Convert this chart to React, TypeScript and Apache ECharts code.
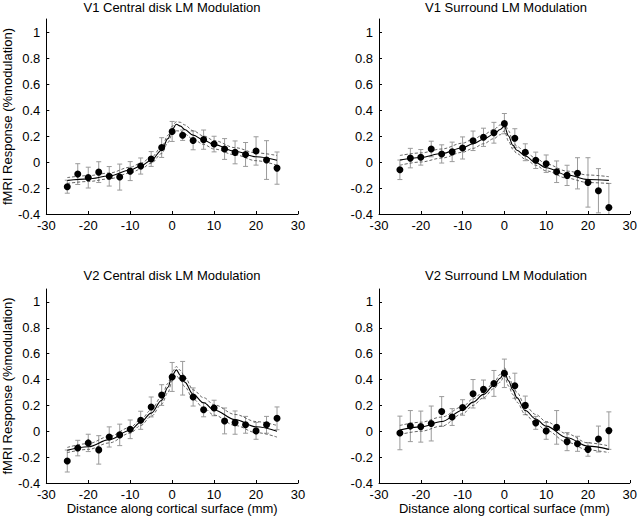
import React, { useEffect, useRef } from "react";
import * as echarts from "echarts";

// ---- data ----
const distances = [-25, -22.5, -20, -17.5, -15, -12.5, -10, -7.5, -5, -2.5, 0, 2.5, 5, 7.5, 10, 12.5, 15, 17.5, 20, 22.5, 25];
const fitX = [-25, -20, -15, -10, -7.5, -5, -2.5, -1, 0, 1, 2, 3, 5, 7.5, 10, 15, 20, 25];

const panelTitles = [
  "V1 Central disk LM Modulation",
  "V1 Surround LM Modulation",
  "V2 Central disk LM Modulation",
  "V2 Surround LM Modulation",
];

const xTickLabels = ["-30", "-20", "-10", "0", "10", "20", "30"];
const yTickValues = [-0.4, -0.2, 0, 0.2, 0.4, 0.6, 0.8, 1];

// V1 central
const v1CenMean = [-0.19, -0.093, -0.12, -0.078, -0.11, -0.116, -0.07, -0.031, 0.023, 0.111, 0.235, 0.206, 0.166, 0.172, 0.138, 0.1, 0.074, 0.058, 0.085, 0.015, -0.047];
const v1CenErr = [0.05, 0.08, 0.08, 0.08, 0.075, 0.1, 0.073, 0.062, 0.057, 0.076, 0.077, 0.04, 0.072, 0.074, 0.06, 0.08, 0.088, 0.092, 0.109, 0.149, 0.124];
const v1CenFit = [-0.142, -0.13, -0.108, -0.062, -0.031, 0.013, 0.09, 0.18, 0.25, 0.29, 0.276, 0.25, 0.207, 0.168, 0.134, 0.083, 0.04, 0.013];
const v1CenUp = [-0.12, -0.105, -0.085, -0.04, -0.01, 0.035, 0.115, 0.205, 0.275, 0.31, 0.305, 0.285, 0.24, 0.2, 0.165, 0.11, 0.07, 0.05];
const v1CenLo = [-0.165, -0.15, -0.13, -0.085, -0.055, -0.01, 0.065, 0.15, 0.215, 0.24, 0.238, 0.215, 0.175, 0.135, 0.1, 0.055, 0.01, -0.025];

// V1 surround
const v1SurMean = [-0.06, 0.03, 0.036, 0.1, 0.062, 0.078, 0.108, 0.163, 0.19, 0.225, 0.295, 0.183, 0.075, 0.013, -0.013, -0.075, -0.103, -0.087, -0.157, -0.221, -0.35];
const v1SurErr = [0.075, 0.075, 0.06, 0.06, 0.07, 0.075, 0.085, 0.075, 0.07, 0.08, 0.078, 0.073, 0.065, 0.063, 0.067, 0.083, 0.078, 0.12, 0.19, 0.17, 0.185];
const v1SurFit = [0.015, 0.035, 0.065, 0.11, 0.14, 0.175, 0.215, 0.25, 0.275, 0.2, 0.13, 0.09, 0.046, -0.005, -0.044, -0.1, -0.135, -0.141];
const v1SurUp = [0.05, 0.07, 0.1, 0.145, 0.175, 0.21, 0.25, 0.285, 0.3, 0.24, 0.165, 0.12, 0.075, 0.03, -0.015, -0.07, -0.1, -0.113];
const v1SurLo = [-0.025, 0.0, 0.03, 0.075, 0.105, 0.14, 0.18, 0.21, 0.24, 0.16, 0.1, 0.065, 0.022, -0.025, -0.068, -0.125, -0.158, -0.165];

// V2 central
const v2CenMean = [-0.23, -0.13, -0.09, -0.144, -0.044, -0.028, 0.015, 0.085, 0.188, 0.28, 0.42, 0.41, 0.265, 0.167, 0.18, 0.08, 0.067, 0.05, 0.003, 0.05, 0.1];
const v2CenErr = [0.085, 0.06, 0.067, 0.11, 0.078, 0.083, 0.072, 0.07, 0.077, 0.08, 0.112, 0.13, 0.07, 0.055, 0.06, 0.1, 0.09, 0.065, 0.065, 0.065, 0.088];
const v2CenFit = [-0.147, -0.12, -0.065, 0.008, 0.07, 0.14, 0.24, 0.34, 0.43, 0.475, 0.43, 0.38, 0.285, 0.22, 0.165, 0.09, 0.035, 0.0];
const v2CenUp = [-0.125, -0.095, -0.04, 0.03, 0.09, 0.165, 0.27, 0.37, 0.46, 0.5, 0.47, 0.42, 0.32, 0.26, 0.205, 0.13, 0.075, 0.045];
const v2CenLo = [-0.165, -0.14, -0.09, -0.015, 0.045, 0.115, 0.21, 0.3, 0.39, 0.43, 0.395, 0.345, 0.25, 0.18, 0.125, 0.045, -0.01, -0.045];

// V2 surround
const v2SurMean = [-0.013, 0.04, 0.036, 0.06, 0.153, 0.11, 0.184, 0.29, 0.324, 0.37, 0.448, 0.352, 0.2, 0.065, 0.003, 0.03, -0.08, -0.097, -0.14, -0.06, 0.005];
const v2SurErr = [0.13, 0.12, 0.12, 0.135, 0.115, 0.065, 0.06, 0.11, 0.072, 0.1, 0.11, 0.097, 0.072, 0.05, 0.065, 0.13, 0.07, 0.058, 0.053, 0.1, 0.145];
const v2SurFit = [0.01, 0.034, 0.075, 0.163, 0.225, 0.285, 0.355, 0.41, 0.46, 0.39, 0.32, 0.26, 0.16, 0.095, 0.04, -0.05, -0.115, -0.14];
const v2SurUp = [0.045, 0.07, 0.11, 0.19, 0.25, 0.305, 0.375, 0.44, 0.49, 0.43, 0.36, 0.3, 0.195, 0.13, 0.075, -0.02, -0.09, -0.113];
const v2SurLo = [-0.025, 0.0, 0.04, 0.135, 0.2, 0.26, 0.33, 0.38, 0.43, 0.35, 0.285, 0.225, 0.13, 0.06, 0.008, -0.085, -0.145, -0.165];

const panels = [
  { mean: v1CenMean, err: v1CenErr, fit: v1CenFit, up: v1CenUp, lo: v1CenLo },
  { mean: v1SurMean, err: v1SurErr, fit: v1SurFit, up: v1SurUp, lo: v1SurLo },
  { mean: v2CenMean, err: v2CenErr, fit: v2CenFit, up: v2CenUp, lo: v2CenLo },
  { mean: v2SurMean, err: v2SurErr, fit: v2SurFit, up: v2SurUp, lo: v2SurLo },
];

const FONT = "'Liberation Sans', Arial, Helvetica, sans-serif";

export default function App() {
  const ref = useRef<HTMLDivElement>(null);

  useEffect(() => {
    if (!ref.current) return;
    const chart = echarts.init(ref.current, undefined, { renderer: "svg" });

    const gridDefs = [
      { left: 46, top: 19, width: 252, height: 195 },
      { left: 379, top: 19, width: 254, height: 195 },
      { left: 46, top: 289, width: 252, height: 194 },
      { left: 379, top: 289, width: 254, height: 194 },
    ];

    const xAxes: any[] = [];
    const yAxes: any[] = [];
    const series: any[] = [];

    panels.forEach((p, i) => {
      const bottomRow = i >= 2;
      const leftCol = i % 2 === 0;
      xAxes.push({
        gridIndex: i,
        type: "value",
        min: -30,
        max: 30,
        interval: 10,
        name: bottomRow ? "Distance along cortical surface (mm)" : "",
        nameLocation: "middle",
        nameGap: 11,
        nameTextStyle: { fontSize: 13, color: "#000", fontFamily: FONT },
        axisLine: { show: true, onZero: false, lineStyle: { color: "#000", width: 1 } },
        axisTick: { show: true, inside: true, length: 3, lineStyle: { color: "#000" } },
        axisLabel: {
          fontSize: 13,
          color: "#000",
          fontFamily: FONT,
          margin: 5,
          formatter: (v: number) => xTickLabels[Math.round((v + 30) / 10)] ?? "",
        },
        splitLine: { show: false },
      });
      yAxes.push({
        gridIndex: i,
        type: "value",
        min: -0.4,
        max: 1.1,
        interval: 0.2,
        name: leftCol ? "fMRI Response (%modulation)" : "",
        nameLocation: "middle",
        nameGap: 29,
        nameTextStyle: { fontSize: 13, color: "#000", fontFamily: FONT },
        axisLine: { show: true, onZero: false, lineStyle: { color: "#000", width: 1 } },
        axisTick: { show: true, inside: true, length: 3, lineStyle: { color: "#000" }, customValues: yTickValues },
        axisLabel: {
          fontSize: 13,
          color: "#000",
          fontFamily: FONT,
          margin: 6,
          customValues: yTickValues,
          formatter: (v: number) => String(Math.round(v * 10) / 10),
        },
        splitLine: { show: false },
      });

      const errData = distances.map((d, k) => [d, p.mean[k] - p.err[k], p.mean[k] + p.err[k]]);
      series.push({
        type: "custom",
        xAxisIndex: i,
        yAxisIndex: i,
        clip: true,
        z: 1,
        data: errData,
        renderItem: (params: any, api: any) => {
          const x = api.value(0);
          const a = api.coord([x, api.value(1)]);
          const b = api.coord([x, api.value(2)]);
          const w = 2.5;
          const st = { stroke: "#9a9a9a", lineWidth: 1 };
          return {
            type: "group",
            children: [
              { type: "line", shape: { x1: a[0], y1: a[1], x2: b[0], y2: b[1] }, style: st },
              { type: "line", shape: { x1: a[0] - w, y1: a[1], x2: a[0] + w, y2: a[1] }, style: st },
              { type: "line", shape: { x1: b[0] - w, y1: b[1], x2: b[0] + w, y2: b[1] }, style: st },
            ],
          };
        },
      });
      const mkLine = (vals: number[], dashed: boolean) => ({
        type: "line",
        xAxisIndex: i,
        yAxisIndex: i,
        data: fitX.map((x, k) => [x, vals[k]]),
        showSymbol: false,
        smooth: 0.35,
        smoothMonotone: "x",
        z: dashed ? 2 : 3,
        lineStyle: dashed
          ? { color: "#555", width: 0.9, type: [3, 2] }
          : { color: "#000", width: 1.1 },
        silent: true,
      });
      series.push(mkLine(p.up, true));
      series.push(mkLine(p.lo, true));
      series.push(mkLine(p.fit, false));
      series.push({
        type: "scatter",
        xAxisIndex: i,
        yAxisIndex: i,
        data: distances.map((d, k) => [d, p.mean[k]]),
        symbol: "circle",
        symbolSize: 7,
        itemStyle: { color: "#000", opacity: 1 },
        z: 4,
      });
    });

    const titleCenters = [
      [172, 7],
      [506, 7],
      [172, 275],
      [506, 275],
    ];

    chart.setOption({
      animation: false,
      backgroundColor: "#fff",
      grid: gridDefs,
      xAxis: xAxes,
      yAxis: yAxes,
      series,
      graphic: panelTitles.map((t, i) => ({
        type: "text",
        x: titleCenters[i][0],
        y: titleCenters[i][1],
        style: {
          text: t,
          fill: "#000",
          font: `13px ${FONT}`,
          align: "center",
          verticalAlign: "middle",
        },
      })),
    });

    return () => chart.dispose();
  }, []);

  return (
    <div
      ref={ref}
      style={{ position: "absolute", left: 0, top: 0, width: 640, height: 519 }}
    />
  );
}
